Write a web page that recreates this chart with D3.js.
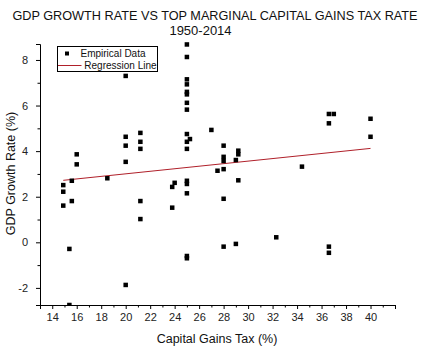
<!DOCTYPE html>
<html>
<head>
<meta charset="utf-8">
<script src="https://cdn.jsdelivr.net/npm/d3@7"></script>
<style>
  html, body { margin: 0; padding: 0; background: #fff; }
  svg { display: block; font-family: "Liberation Sans", Arial, sans-serif; }
</style>
</head>
<body>
<svg id="chart" width="426" height="358"></svg>
<script>
// ---- data ----
const taxRate = [
  14.9, 14.9, 14.9,
  15.4, 15.4,
  15.6, 15.6,
  16.0, 16.0,
  18.5,
  20.0, 20.0, 20.0, 20.0, 20.0,
  21.2, 21.2, 21.2, 21.2, 21.2,
  23.8, 23.8,
  24.0,
  25.0, 25.0, 25.0, 25.0, 25.0, 25.0, 25.0, 25.0, 25.0, 25.0, 25.0, 25.0, 25.0, 25.0, 25.0, 25.0,
  25.25,
  27.0,
  27.5,
  28.0, 28.0, 28.0, 28.0, 28.0, 28.0,
  29.0, 29.0,
  29.2, 29.2, 29.2,
  32.3,
  34.4,
  36.6, 36.6, 36.6, 36.6,
  37.0,
  40.0, 40.0
];
const gdpGrowth = [
  2.51, 2.22, 1.61,
  -0.29, -2.75,
  2.70, 1.81,
  3.86, 3.42,
  2.81,
  7.3, 4.63, 4.24, 3.53, -1.87,
  4.8, 4.41, 4.1, 1.81, 1.02,
  2.43, 1.52,
  2.61,
  8.68, 8.13, 7.15, 6.93, 6.6, 6.49, 6.12, 5.82, 4.75, 4.41, 4.1, 2.70, 2.56, 2.15, -0.6, -0.7,
  4.53,
  4.93,
  3.14,
  4.24, 3.75, 3.57, 3.21, 1.91, -0.19,
  3.61, -0.07,
  4.02, 3.86, 2.72,
  0.22,
  3.32,
  5.63, 5.22, -0.19, -0.46,
  5.63,
  5.42, 4.63
];
const regressionX = [14.9, 40.0];
const regressionY = [2.72, 4.12];
const xMajorTicks = [14, 16, 18, 20, 22, 24, 26, 28, 30, 32, 34, 36, 38, 40];
const yMajorTicks = [-2, 0, 2, 4, 6, 8];
const xDomain = [13, 42];
const yDomain = [-2.75, 8.7];
const titleLines = ["GDP GROWTH RATE VS TOP MARGINAL CAPITAL GAINS TAX RATE", "1950-2014"];
const xTitle = "Capital Gains Tax (%)";
const yTitle = "GDP Growth Rate (%)";
const legendLabels = ["Empirical Data", "Regression Line"];

// ---- drawing ----
const svg = d3.select("#chart");
const x = d3.scaleLinear().domain(xDomain).range([40, 395]);
const y = d3.scaleLinear().domain(yDomain).range([305, 44]);

const xMinor = d3.range(xDomain[0], xDomain[1] + 0.001, 1).filter(v => !xMajorTicks.includes(v));
const yMinor = d3.range(-2, 9, 1).filter(v => !yMajorTicks.includes(v));
const fmt = d => String(d); // plain hyphen-minus like the reference

// titles
svg.append("text").attr("x", 215).attr("y", 20).attr("text-anchor", "middle")
  .attr("font-size", 12.7).attr("fill", "#111")
  .text(titleLines[0]);
svg.append("text").attr("x", 200.5).attr("y", 35).attr("text-anchor", "middle")
  .attr("font-size", 13).attr("fill", "#111")
  .text(titleLines[1]);

// x axis
const gx = svg.append("g").attr("transform", "translate(0,305)");
gx.call(d3.axisBottom(x).tickValues(xMajorTicks).tickSize(4).tickPadding(4).tickFormat(fmt));
gx.append("g").call(d3.axisBottom(x).tickValues(xMinor).tickSize(2.5).tickFormat(""))
  .select(".domain").remove();
gx.selectAll(".tick text").attr("font-size", 11).attr("fill", "#222")
  .attr("font-family", "Liberation Sans, Arial, sans-serif");

// y axis
const gy = svg.append("g").attr("transform", "translate(40,0)");
gy.call(d3.axisLeft(y).tickValues(yMajorTicks).tickSize(4).tickPadding(8).tickFormat(fmt));
gy.append("g").call(d3.axisLeft(y).tickValues(yMinor).tickSize(2.5).tickFormat(""))
  .select(".domain").remove();
gy.selectAll(".tick text").attr("font-size", 11).attr("fill", "#222")
  .attr("font-family", "Liberation Sans, Arial, sans-serif");

svg.selectAll(".domain").attr("stroke", "#000").attr("stroke-width", 1);
svg.selectAll(".tick line").attr("stroke", "#000");

// axis titles
svg.append("text").attr("x", 217).attr("y", 343).attr("text-anchor", "middle")
  .attr("font-size", 12.5).attr("fill", "#111").text(xTitle);
svg.append("text").attr("transform", "translate(15,173.5) rotate(-90)")
  .attr("text-anchor", "middle").attr("font-size", 12.5).attr("fill", "#111").text(yTitle);

// plot clip
svg.append("clipPath").attr("id", "clip").append("rect")
  .attr("x", 40).attr("y", 40).attr("width", 360).attr("height", 265);

// regression line
svg.append("line")
  .attr("x1", x(regressionX[0])).attr("y1", y(regressionY[0]))
  .attr("x2", x(regressionX[1])).attr("y2", y(regressionY[1]))
  .attr("stroke", "#b0202a").attr("stroke-width", 1);

// points
const ms = 4.5;
svg.append("g").attr("clip-path", "url(#clip)")
  .selectAll("rect").data(taxRate.map((t, i) => [t, gdpGrowth[i]]))
  .join("rect")
  .attr("x", d => x(d[0]) - ms / 2).attr("y", d => y(d[1]) - ms / 2)
  .attr("width", ms).attr("height", ms).attr("fill", "#000");

// legend
const lg = svg.append("g");
lg.append("rect").attr("x", 57.5).attr("y", 46.5).attr("width", 100).attr("height", 25)
  .attr("fill", "#fff").attr("stroke", "#000").attr("stroke-width", 1);
lg.append("rect").attr("x", 67 - 2).attr("y", 53.5 - 2).attr("width", 4).attr("height", 4).attr("fill", "#000");
lg.append("text").attr("x", 80.5).attr("y", 57).attr("font-size", 10).attr("fill", "#111")
  .text(legendLabels[0]);
lg.append("line").attr("x1", 58).attr("x2", 81.5).attr("y1", 65.5).attr("y2", 65.5)
  .attr("stroke", "#b0202a").attr("stroke-width", 1);
lg.append("text").attr("x", 84.3).attr("y", 69).attr("font-size", 10).attr("fill", "#111")
  .text(legendLabels[1]);
</script>
</body>
</html>
